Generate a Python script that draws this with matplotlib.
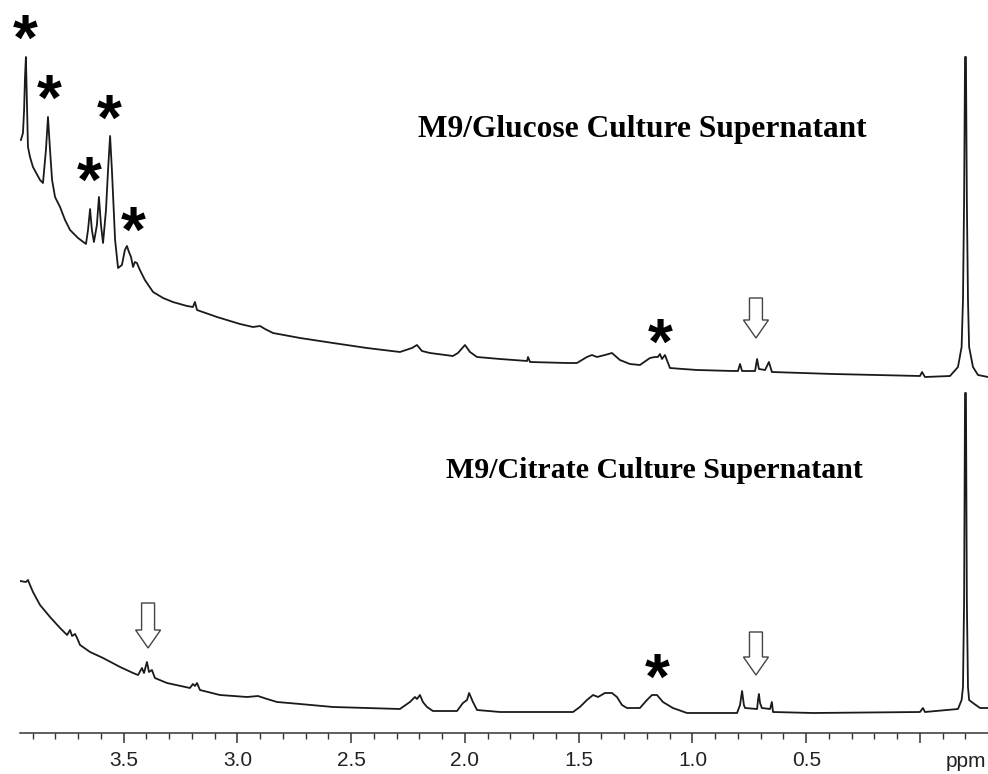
import numpy as np
import matplotlib
matplotlib.use("Agg")
import matplotlib.pyplot as plt
from matplotlib.patches import FancyArrow
from matplotlib.ticker import MultipleLocator

# upper trace: M9/Glucose supernatant (ppm, intensity above its own baseline)
glucose_ppm = [3.952, 3.943, 3.938, 3.934, 3.930, 3.925, 3.921, 3.912, 3.899, 3.868,
               3.855, 3.842, 3.833, 3.824, 3.815, 3.802, 3.780, 3.758, 3.736, 3.701,
               3.666, 3.657, 3.648, 3.640, 3.631, 3.618, 3.609, 3.600, 3.591, 3.578,
               3.569, 3.560, 3.552, 3.538, 3.525, 3.508, 3.495, 3.486, 3.477, 3.468,
               3.459, 3.451, 3.442, 3.429, 3.407, 3.371, 3.327, 3.284, 3.222, 3.196,
               3.187, 3.178, 3.090, 2.989, 2.932, 2.901, 2.879, 2.844, 2.725, 2.580,
               2.431, 2.286, 2.233, 2.211, 2.189, 2.154, 2.053, 2.031, 2.000, 1.978,
               1.947, 1.846, 1.727, 1.723, 1.714, 1.552, 1.508, 1.464, 1.442, 1.420,
               1.385, 1.354, 1.319, 1.275, 1.231, 1.187, 1.165, 1.152, 1.143, 1.134,
               1.121, 1.099, 1.042, 0.980, 0.822, 0.800, 0.791, 0.782, 0.725, 0.716,
               0.708, 0.681, 0.664, 0.651, 0.382, 0.000, -0.009, -0.022, -0.132, -0.167,
               -0.183, -0.189, -0.194, -0.198, -0.202, -0.206, -0.211, -0.216, -0.233,
               -0.255, -0.299]
glucose_int = [237, 244, 267, 300, 320, 269, 230, 220, 210, 197,
               194, 227, 260, 227, 197, 180, 170, 157, 147, 139,
               133, 147, 168, 147, 135, 152, 180, 152, 134, 167,
               207, 241, 207, 137, 109, 112, 127, 131, 125, 120,
               110, 115, 114, 107, 97, 85, 79, 75, 71, 70,
               75, 67, 60, 53, 50, 51, 48, 44, 39, 34,
               29, 25, 29, 32, 26, 24, 21, 24, 32, 25,
               20, 18, 16, 20, 15, 14, 14, 20, 22, 20,
               22, 24, 17, 13, 12, 19, 20, 20, 23, 18,
               22, 9, 8, 7, 6, 6, 13, 6, 6, 18,
               8, 7, 15, 5, 3, 1, 5, 0, 1, 10,
               30, 77, 177, 320, 320, 177, 77, 30, 10,
               2, 0]

# lower trace: M9/Citrate supernatant
citrate_ppm = [3.956, 3.930, 3.921, 3.912, 3.899, 3.868, 3.824, 3.780, 3.749, 3.736,
               3.727, 3.714, 3.705, 3.692, 3.648, 3.591, 3.516, 3.459, 3.437, 3.420,
               3.411, 3.398, 3.389, 3.376, 3.363, 3.310, 3.209, 3.196, 3.187, 3.178,
               3.165, 3.077, 2.958, 2.910, 2.870, 2.826, 2.725, 2.580, 2.431, 2.286,
               2.242, 2.220, 2.211, 2.198, 2.185, 2.167, 2.141, 2.035, 2.009, 1.991,
               1.982, 1.965, 1.947, 1.846, 1.525, 1.495, 1.464, 1.437, 1.415, 1.385,
               1.354, 1.332, 1.310, 1.288, 1.231, 1.200, 1.178, 1.156, 1.130, 1.086,
               1.024, 0.804, 0.791, 0.782, 0.774, 0.769, 0.716, 0.712, 0.708, 0.703,
               0.695, 0.659, 0.651, 0.646, 0.470, 0.000, -0.013, -0.022, -0.167, -0.183,
               -0.189, -0.194, -0.198, -0.202, -0.206, -0.211, -0.216, -0.233, -0.264,
               -0.299]
citrate_int = [131, 130, 132, 127, 120, 107, 95, 84, 77, 82,
               76, 78, 74, 67, 60, 54, 45, 39, 37, 44,
               39, 50, 40, 42, 34, 29, 24, 28, 26, 29,
               22, 17, 15, 16, 13, 10, 8, 5, 4, 3,
               10, 15, 13, 17, 10, 5, 1, 1, 9, 12,
               19, 10, 2, 0, 0, 5, 12, 17, 15, 19,
               19, 15, 7, 4, 4, 12, 17, 17, 10, 4,
               -1, -1, 7, 21, 7, 4, 3, 12, 18, 9,
               4, 3, 10, 0, -1, 0, 4, 0, 3, 12,
               25, 112, 319, 319, 112, 25, 12, 9, 4,
               4]

glucose_offset = 335

labels = ["M9/Glucose Culture Supernatant", "M9/Citrate Culture Supernatant"]

# asterisks (ppm, height) and open arrows (ppm, top, tip)
star_ppm = [3.934, 3.829, 3.565, 3.653, 3.459, 1.143, 1.156]
star_y = [684, 624, 604, 542, 492, 380, 45]
arrow_ppm = [0.721, 0.721, 3.393]
arrow_top = [414, 80, 109]
arrow_tip = [374, 37, 64]

fig = plt.figure(figsize=(9.88, 7.74), dpi=100)
ax = fig.add_axes([20 / 988, 41 / 774, 968 / 988, 733 / 774])

line_kw = dict(color="#1a1a1a", lw=1.3)
ax.plot(citrate_ppm, citrate_int, **line_kw)
ax.plot(glucose_ppm, np.array(glucose_int) + glucose_offset, **line_kw)

ax.set_xlim(3.956, -0.299)
ax.set_ylim(-21, 712)

for s in ["top", "left", "right"]:
    ax.spines[s].set_visible(False)
ax.spines["bottom"].set_color("#333333")
ax.spines["bottom"].set_linewidth(1.1)
ax.set_yticks([])

ax.set_xticks([3.5, 3.0, 2.5, 2.0, 1.5, 1.0, 0.5, 0.0])
ax.set_xticklabels(["3.5", "3.0", "2.5", "2.0", "1.5", "1.0", "0.5", ""])
ax.xaxis.set_minor_locator(MultipleLocator(0.1))
ax.tick_params(axis="x", which="major", length=7, width=1.1, color="#333333",
               labelsize=15, labelcolor="#222222", pad=6)
ax.tick_params(axis="x", which="minor", length=4, width=1.0, color="#333333")
for lab in ax.get_xticklabels():
    lab.set_family("Liberation Sans")
ax.text(-0.2, -0.047, "ppm", transform=ax.get_xaxis_transform(), ha="center",
        va="baseline", fontsize=15, color="#222222", family="Liberation Sans")

ax.text(2.207, 582, labels[0], ha="left", va="center", fontsize=22.6,
        fontweight="bold", family="Liberation Serif")
ax.text(2.084, 242, labels[1], ha="left", va="center", fontsize=21.5,
        fontweight="bold", family="Liberation Serif")

for px, py in zip(star_ppm, star_y):
    ax.annotate("*", (px, py), xytext=(0, -11), textcoords="offset points",
                ha="center", va="center", fontsize=46, fontweight="bold",
                family="Liberation Sans")

for px, top, tip in zip(arrow_ppm, arrow_top, arrow_tip):
    ax.add_patch(FancyArrow(px, top, 0, tip - top, width=0.057, head_width=0.11,
                            head_length=18, length_includes_head=True,
                            facecolor="white", edgecolor="#444444", lw=1.0))

fig.savefig("out.png", dpi=100)
